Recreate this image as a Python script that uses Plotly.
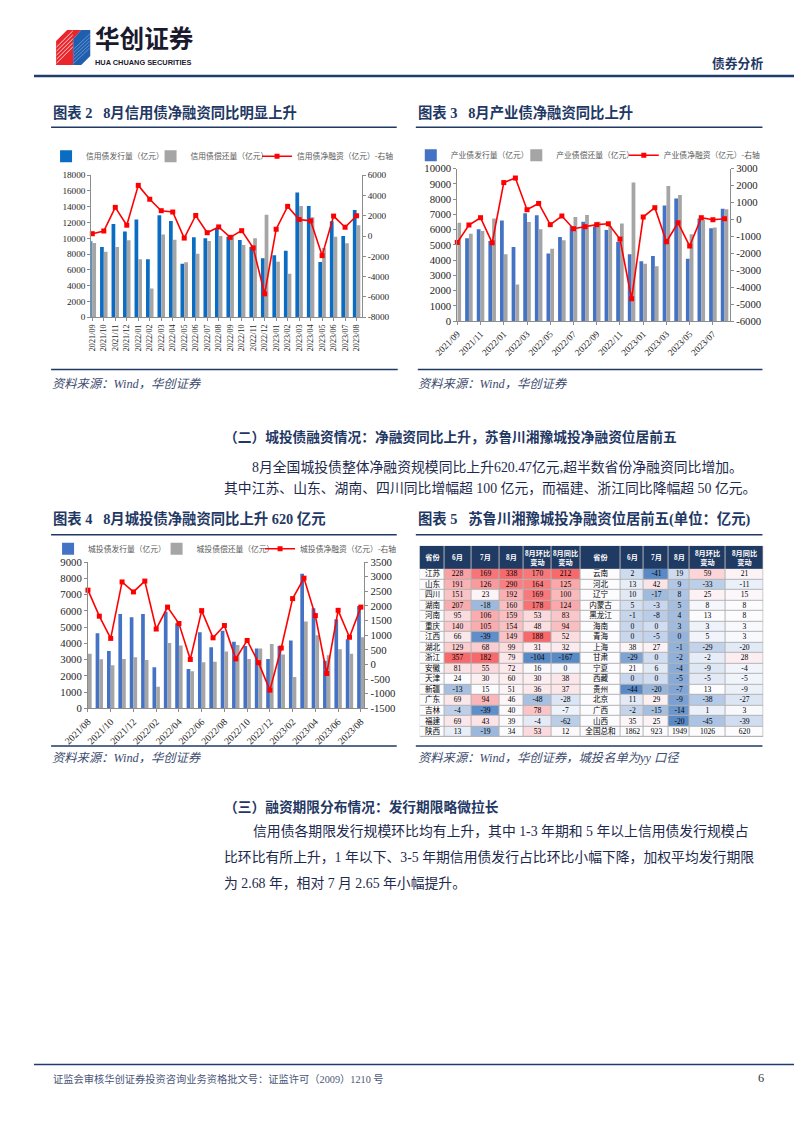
import numpy as np
import plotly.graph_objects as go

W, H = 802, 1133
# the photographed page shows the figure slightly scaled and shifted; positions below are
# measured on the reference and mapped into figure space
OX, SX, OY, SY = 32.0, 0.963, 15.0, 0.988
def fx(x): return min(max((x - OX) / SX / W, 0), 1)
def fy(y): return min(max(1 - ((y - OY) / SY) / H, 0), 1)
FS = 1.025  # font compensation

# ---------------- data ----------------
months_credit = ['2021/09', '2021/10', '2021/11', '2021/12', '2022/01', '2022/02', '2022/03', '2022/04',
                 '2022/05', '2022/06', '2022/07', '2022/08', '2022/09', '2022/10', '2022/11', '2022/12',
                 '2023/01', '2023/02', '2023/03', '2023/04', '2023/05', '2023/06', '2023/07', '2023/08']
credit_issue = [9650, 8900, 11800, 10850, 12370, 7330, 12920, 12200, 6780, 10130, 10000, 11270,
                10200, 9790, 8900, 7460, 7840, 8430, 15800, 14100, 6990, 12160, 10300, 13600]
credit_repay = [9400, 8300, 8900, 9750, 7330, 3640, 10470, 9800, 6950, 8050, 9660, 10300,
                10300, 9150, 10000, 13000, 7030, 5500, 14100, 12670, 8770, 10200, 9360, 11650]
credit_net = [230, 500, 2830, 1070, 5000, 3630, 2500, 2370, -200, 2030, 330, 900,
              -130, 530, -1170, -5700, 670, 2930, 1630, 1500, -1930, 1970, 870, 2000]

months_ind = months_credit
ind_issue = [5090, 5430, 6020, 5250, 6590, 4860, 7070, 6940, 4440, 5510, 6210, 6520,
             6200, 5970, 5200, 4380, 3920, 4270, 7570, 8030, 4090, 6720, 6080, 7370]
ind_repay = [6450, 5730, 5900, 6720, 4380, 2400, 6500, 6020, 4750, 5300, 6830, 6960,
             6510, 6230, 6390, 9080, 3760, 3600, 8860, 8270, 5690, 6640, 6130, 7330]
ind_net = [-1360, -330, 100, -1380, 2170, 2440, 570, 940, -310, 200, -550, -430,
           -310, -260, -1160, -4680, 140, 690, -1320, -200, -1570, 100, -20, 40]

months_city = ['2021/08', '2021/09', '2021/10', '2021/11', '2021/12', '2022/01', '2022/02', '2022/03',
               '2022/04', '2022/05', '2022/06', '2022/07', '2022/08', '2022/09', '2022/10', '2022/11',
               '2022/12', '2023/01', '2023/02', '2023/03', '2023/04', '2023/05', '2023/06', '2023/07', '2023/08']
city_issue = [5890, 4620, 3530, 5810, 5600, 5810, 2530, 5950, 5240, 2420, 4680, 3760, 4780,
              4090, 3840, 3680, 3040, 3840, 4170, 8280, 6160, 2920, 5480, 4250, 6300]
city_repay = [3350, 3020, 2650, 3040, 3140, 2980, 1330, 4020, 3860, 2280, 2830, 2870, 3490,
              3900, 3040, 3680, 3960, 3310, 1930, 5340, 4500, 3260, 3630, 3350, 4370]
city_net = [2540, 1650, 890, 2820, 2480, 2850, 1210, 1960, 1400, 170, 1840, 910, 1330,
            190, 820, 60, -880, 560, 2250, 2950, 1670, -310, 1850, 930, 1960]

table_header = ['省份', '6月', '7月', '8月', '8月环比<br>变动', '8月同比<br>变动']
prov_left = ['江苏', '山东', '四川', '湖南', '河南', '重庆', '江西', '湖北',
             '浙江', '安徽', '天津', '新疆', '广东', '吉林', '福建', '陕西']
jun_left = [228, 191, 151, 207, 95, 140, 66, 129, 357, 81, 24, -13, 69, -4, 69, 13]
jul_left = [169, 126, 23, -18, 106, 105, -39, 68, 182, 55, 30, 15, 94, -39, 43, -19]
aug_left = [338, 290, 192, 160, 159, 154, 149, 99, 79, 72, 60, 51, 46, 40, 39, 34]
mom_left = [170, 164, 169, 178, 53, 48, 188, 31, -104, 16, 30, 36, -48, 78, -4, 53]
yoy_left = [212, 125, 100, 124, 83, 94, 52, 32, -167, 0, 38, 37, -28, -7, -62, 12]

prov_right = ['云南', '河北', '辽宁', '内蒙古', '黑龙江', '海南', '青海', '上海',
              '甘肃', '宁夏', '西藏', '贵州', '北京', '广西', '山西', '全国总和']
jun_right = [2, 13, 10, 5, -1, 0, 0, 38, -29, 21, 0, -44, 11, -2, 35, 1862]
jul_right = [-41, 42, -17, -3, -8, 0, -5, 27, 0, 6, 0, -20, 29, -15, 25, 923]
aug_right = [19, 9, 8, 5, 4, 3, 0, -1, -2, -4, -5, -7, -9, -14, -20, 1949]
mom_right = [59, -33, 25, 8, 13, 3, 5, -29, -2, -9, -5, 13, -38, 1, -45, 1026]
yoy_right = [21, -11, 15, 8, 8, 3, 3, -20, 28, -4, -5, -9, -27, 3, -39, 620]

# ---------------- styles ----------------
SERIF = "Liberation Serif"
CJK = "Noto Sans CJK SC"
MIX = "Liberation Serif, Noto Sans CJK SC"
NAVY = "#1F3864"
BLUE2 = "#0A6CC2"
BLUE = "#4472C4"
GRAY = "#A5A5A5"
RED = "#FF0000"
AXC = "#8C8C8C"
TXT = "#262626"

fig = go.Figure()

def add_chart(xa, ya, ya2, months, issue, repay, net, names, blue, legs):
    fig.add_trace(go.Bar(x=months, y=issue, name=names[0], marker=dict(color=blue, line=dict(width=0)),
                         xaxis=xa, yaxis=ya, legend=legs[0], showlegend=True, hoverinfo='skip'))
    fig.add_trace(go.Bar(x=months, y=repay, name=names[1], marker=dict(color=GRAY, line=dict(width=0)),
                         xaxis=xa, yaxis=ya, legend=legs[1], showlegend=True, hoverinfo='skip'))
    fig.add_trace(go.Scatter(x=months, y=net, name=names[2], mode='lines+markers',
                             line=dict(color=RED, width=1.6),
                             marker=dict(symbol='square', size=5, color=RED),
                             cliponaxis=False, xaxis=xa, yaxis=ya2, legend=legs[2], showlegend=True,
                             hoverinfo='skip'))

add_chart('x', 'y', 'y2', months_credit, credit_issue, credit_repay, credit_net,
          ['信用债发行量（亿元）', '信用债偿还量（亿元）', '信用债净融资（亿元）-右轴'], BLUE2,
          ['legend', 'legend2', 'legend3'])
add_chart('x2', 'y3', 'y4', months_ind, ind_issue, ind_repay, ind_net,
          ['产业债发行量（亿元）', '产业债偿还量（亿元）', '产业债净融资（亿元）-右轴'], BLUE,
          ['legend4', 'legend5', 'legend6'])
add_chart('x3', 'y5', 'y6', months_city, city_issue, city_repay, city_net,
          ['城投债发行量（亿元）', '城投债偿还量（亿元）', '城投债净融资（亿元）-右轴'], BLUE,
          ['legend7', 'legend8', 'legend9'])

# ---------------- table (heatmap cells) ----------------
def col_scale(vals):
    a = np.array(vals, float)
    lo, mid, hi = a.min(), np.percentile(a, 50), a.max()
    return np.where(a <= mid, 0.5 * (a - lo) / (mid - lo), 0.5 + 0.5 * (a - mid) / (hi - mid))

left_cols = [jun_left, jul_left, aug_left, mom_left, yoy_left]
right_cols = [jun_right, jul_right, aug_right, mom_right, yoy_right]
zl, zr = [], []
for lc, rc in zip(left_cols, right_cols):
    s = col_scale(lc + rc[:-1])
    zl.append(list(s[:16]))
    zr.append(list(s[16:]) + [0.5])

nrow = len(prov_left)
z = []
text = []
for r in range(nrow):
    z.append([0.5] + [c[r] for c in zl] + [0.5] + [c[r] for c in zr])
    text.append([prov_left[r]] + [str(c[r]) for c in left_cols] +
                [prov_right[r]] + [str(c[r]) for c in right_cols])

col_w = [25, 26.6, 27.7, 24, 28.3, 28.4, 40, 23.3, 25, 20, 36.7, 37.3]
x_edges = list(np.concatenate([[0], np.cumsum(col_w)]))
HDR = 2.19
y_edges = list(range(nrow + 1))

fig.add_trace(go.Heatmap(x=x_edges, y=y_edges, z=z, text=text, texttemplate='%{text}',
                         textfont=dict(family=MIX, size=7.6, color='#000000'),
                         colorscale=[[0, '#5A8AC6'], [0.5, '#FCFCFF'], [1, '#F8696B']],
                         zmin=0, zmax=1, showscale=False, xgap=1, ygap=1,
                         xaxis='x4', yaxis='y7', hoverinfo='skip'))
fig.add_trace(go.Heatmap(x=x_edges, y=[-HDR, 0], z=[[1] * 12],
                         text=[['<b>%s</b>' % h for h in table_header * 2]], texttemplate='%{text}',
                         textfont=dict(family=MIX, size=7.2, color='#FFFFFF'),
                         colorscale=[[0, '#1F3A63'], [1, '#1F3A63']], showscale=False,
                         xgap=1, ygap=0, xaxis='x4', yaxis='y7', hoverinfo='skip'))

# ---------------- axes ----------------
def yax(dom, rng, step, side='left', overlay=None, anchor='x', size=9):
    vals = list(range(rng[0], rng[1] + 1, step))
    d = dict(range=rng, tickvals=vals, ticktext=[str(v) for v in vals], showgrid=False, zeroline=False,
             showline=True, linecolor=AXC, linewidth=1, ticks='outside', ticklen=3, tickcolor=AXC,
             tickfont=dict(family=SERIF, size=size * FS, color=TXT), anchor=anchor, side=side, fixedrange=True)
    if overlay:
        d['overlaying'] = overlay
    else:
        d['domain'] = dom
    return d

def xax(dom, rng, anchor, angle, size, tickvals=None):
    d = dict(domain=dom, range=rng, type='category', anchor=anchor, showgrid=False, zeroline=False,
             showline=True, linecolor=AXC, linewidth=1, ticks='outside', ticklen=3, tickcolor=AXC,
             tickangle=angle, tickfont=dict(family=SERIF, size=size * FS, color=TXT), fixedrange=True)
    if tickvals is not None:
        d['tickmode'] = 'array'
        d['tickvals'] = tickvals
        d['ticktext'] = tickvals
    return d

legend_common = dict(orientation='h', xanchor='left', yanchor='middle', bgcolor='rgba(0,0,0,0)',
                     font=dict(family=CJK, size=7.6 * FS, color='#595959'), itemwidth=30,
                     itemclick=False, itemdoubleclick=False, borderwidth=0, visible=True)
# legend entry anchors (reference px: left of entry box, centre y)
legend_pos = [(45, 157), (149, 157), (255, 157),
              (408, 156), (513, 156), (620, 156),
              (47, 549), (155, 549), (258, 549)]
legends = {}
for i, (lx, ly) in enumerate(legend_pos):
    key = 'legend' if i == 0 else 'legend%d' % (i + 1)
    legends[key] = dict(legend_common, x=fx(lx), y=fy(ly))

fig.update_layout(
    width=W, height=H, margin=dict(l=0, r=0, t=0, b=0),
    paper_bgcolor='white', plot_bgcolor='white', showlegend=True,
    barmode='group', bargap=0.35, bargroupgap=0,
    xaxis=xax([fx(90), fx(359.3)], [-0.09, 23.46], 'y', -90, 8),
    yaxis=yax([fy(317.7), fy(176)], [0, 18000], 2000, anchor='x', size=9),
    yaxis2=yax(None, [-8000, 6000], 2000, side='right', overlay='y', anchor='x', size=9),
    xaxis2=xax([fx(454.3), fx(725.7)], [0, 23.47], 'y3', -45, 9, months_ind[::2]),
    yaxis3=yax([fy(321.7), fy(169.3)], [0, 10000], 1000, anchor='x2', size=10.5),
    yaxis4=yax(None, [-6000, 3000], 1000, side='right', overlay='y3', anchor='x2', size=10.5),
    xaxis3=xax([fx(86.7), fx(361.7)], [0, 24.3], 'y5', -45, 9.5, months_city[::2]),
    yaxis5=yax([fy(708.3), fy(562.3)], [0, 9000], 1000, anchor='x3', size=10.5),
    yaxis6=yax(None, [-1500, 3500], 500, side='right', overlay='y5', anchor='x3', size=10.5),
    xaxis4=dict(domain=[fx(416.7), fx(759)], range=[0, x_edges[-1]], visible=False, anchor='y7', fixedrange=True),
    yaxis7=dict(domain=[fy(737), fy(546)], range=[nrow, -HDR], visible=False, anchor='x4', fixedrange=True),
    **legends,
)

# ---------------- shapes ----------------
shapes = []
def hline(x0, x1, y, color=NAVY, w=1.5):
    shapes.append(dict(type='line', xref='paper', yref='paper', x0=fx(x0), x1=fx(x1), y0=fy(y), y1=fy(y),
                       line=dict(color=color, width=w)))

def path(points):
    return 'M ' + ' L '.join('%.5f,%.5f' % (fx(a), fy(b)) for a, b in points) + ' Z'

hline(33, 800, 77, '#1F3C6E', 2.5)
hline(50, 394, 128)
hline(413, 758, 128)
hline(50, 395, 370)
hline(415, 758, 370)
hline(50, 394, 535)
hline(413, 758, 535)
hline(50, 394, 746)
hline(413, 758, 746)
hline(33, 800, 1064, '#1F3C6E', 1.5)
# table grid background
shapes.append(dict(type='rect', xref='x4', yref='y7', x0=0, x1=x_edges[-1], y0=-HDR, y1=nrow,
                   fillcolor='#B4B4B4', line=dict(width=0), layer='below'))
# logo
shapes.append(dict(type='path', xref='paper', yref='paper',
                   path=path([(55, 42), (66, 31), (80, 31), (72, 40), (72, 66), (55, 66)]),
                   fillcolor='#E8262B', line=dict(width=0)))
shapes.append(dict(type='path', xref='paper', yref='paper',
                   path=path([(72, 40), (80, 31), (89, 31), (89, 57), (80, 66), (72, 66)]),
                   fillcolor='#1F5FAE', line=dict(width=0)))
for i in range(5):
    shapes.append(dict(type='line', xref='paper', yref='paper', x0=fx(55.5), y0=fy(48 + 4 * i),
                       x1=fx(71.5), y1=fy(32 + 4 * i), line=dict(color='white', width=0.8)))
    shapes.append(dict(type='line', xref='paper', yref='paper', x0=fx(72.5), y0=fy(50 + 3.5 * i),
                       x1=fx(88.5), y1=fy(35 + 3.5 * i), line=dict(color='#8FB3E0', width=0.6)))

# ---------------- annotations ----------------
ann = []
def txt(x, y, s, size, color, bold=False, family=MIX, xanchor='left', italic=False, yanchor='middle'):
    if bold:
        s = '<b>%s</b>' % s
    if italic:
        s = '<i>%s</i>' % s
    ann.append(dict(x=fx(x), y=fy(y), xref='paper', yref='paper', text=s, showarrow=False,
                    xanchor=xanchor, yanchor=yanchor, align='left', borderpad=0,
                    font=dict(family=family, size=size * FS, color=color)))

txt(93, 57, '华创证券', 24, '#1A1A2E', bold=True, family=CJK, yanchor='bottom')
txt(93, 58, 'HUA CHUANG SECURITIES', 7.2, '#1A1A2E', bold=True, family='Liberation Sans', yanchor='top')
txt(760, 63, '债券分析', 12.5, NAVY, bold=True, family=CJK, xanchor='right')

txt(51, 113, '图表\u00a02\u00a0\u00a0\u00a08月信用债净融资同比明显上升', 14, NAVY, bold=True)
txt(414, 113, '图表\u00a03\u00a0\u00a0\u00a08月产业债净融资同比上升', 14, NAVY, bold=True)
SRC = '#3C4B6E'
txt(50, 384, '资料来源：Wind，华创证券', 12, SRC, italic=True)
txt(414, 384, '资料来源：Wind，华创证券', 12, SRC, italic=True)

BODY = '#1D2A4D'
HS = 13.4   # section heading size
BS = 13.5   # body text size
txt(221, 437, '（二）城投债融资情况：净融资同比上升，苏鲁川湘豫城投净融资位居前五', HS, NAVY, bold=True)
txt(249, 467, '8月全国城投债整体净融资规模同比上升620.47亿元,超半数省份净融资同比增加。', BS, BODY)
txt(221, 489, '其中江苏、山东、湖南、四川同比增幅超 100 亿元，而福建、浙江同比降幅超 50 亿元。', BS, BODY)

txt(51, 519, '图表\u00a04\u00a0\u00a0\u00a08月城投债净融资同比上升 620 亿元', 14, NAVY, bold=True)
txt(414, 519, '图表\u00a05\u00a0\u00a0\u00a0苏鲁川湘豫城投净融资位居前五(单位：亿元)', 14, NAVY, bold=True)
txt(50, 758, '资料来源：Wind，华创证券', 12, SRC, italic=True)
txt(414, 758, '资料来源：Wind，华创证券，城投名单为yy 口径', 12, SRC, italic=True)

txt(221, 807, '（三）融资期限分布情况：发行期限略微拉长', HS, NAVY, bold=True)
txt(250, 831, '信用债各期限发行规模环比均有上升，其中 1-3 年期和 5 年以上信用债发行规模占', BS, BODY)
txt(221, 857, '比环比有所上升，1 年以下、3-5 年期信用债发行占比环比小幅下降，加权平均发行期限', BS, BODY)
txt(221, 883, '为 2.68 年，相对 7 月 2.65 年小幅提升。', BS, BODY)

txt(51, 1078, '证监会审核华创证券投资咨询业务资格批文号：证监许可（2009）1210 号', 10, '#4A5578')
txt(761, 1077, '6', 12, '#333333', family=SERIF, xanchor='right')

fig.update_layout(shapes=shapes, annotations=ann)
fig.write_html('out.html')
